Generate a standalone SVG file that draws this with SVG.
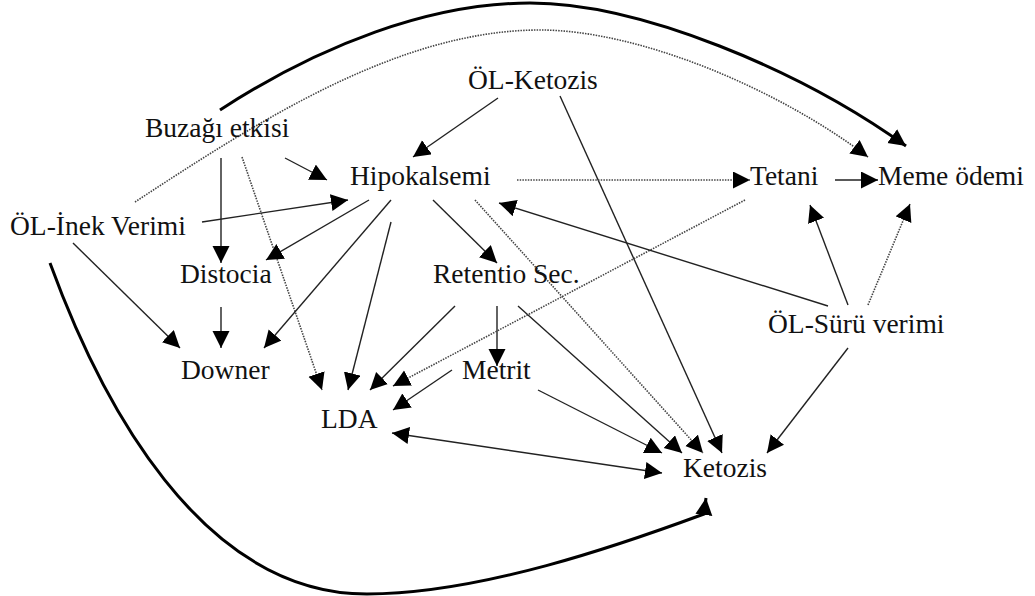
<svg xmlns="http://www.w3.org/2000/svg" width="1035" height="596" viewBox="0 0 1035 596">
<defs>
<marker id="ah" markerUnits="userSpaceOnUse" markerWidth="18" markerHeight="18" refX="17" refY="8.5" orient="auto-start-reverse"><path d="M0,0 L17,8.5 L0,17 z" fill="#000"/></marker>
<style>
.t{font-family:"Liberation Serif","Times New Roman",serif;font-size:27.5px;fill:#111}
.s{fill:none;stroke:#222;stroke-width:1.4}
.d{fill:none;stroke:#444;stroke-width:1.6;stroke-dasharray:1.5 1.2}
.k{fill:none;stroke:#000;stroke-width:3}
</style>
</defs>
<rect width="1035" height="596" fill="#fff"/>
<g id="connectors">
<path class="k" d="M220,110 C320,45 430,3 530,3 C640,3 800,70 906,146" marker-end="url(#ah)"/>
<path class="d" d="M135,202 C260,120 400,30 540,30 C640,30 780,90 868,157" marker-end="url(#ah)"/>
<path class="k" d="M50,263 C100,400 200,594 367,594 C480,594 620,545 704,514 L706,498" marker-end="url(#ah)"/>
<line class="s" x1="498" y1="98" x2="413" y2="157" marker-end="url(#ah)"/>
<line class="s" x1="560" y1="96" x2="722" y2="453" marker-end="url(#ah)"/>
<line class="s" x1="285" y1="158" x2="327" y2="180" marker-end="url(#ah)"/>
<line class="s" x1="221" y1="158" x2="221" y2="263" marker-end="url(#ah)"/>
<line class="d" x1="242" y1="157" x2="322" y2="390" marker-end="url(#ah)"/>
<line class="s" x1="202" y1="222" x2="348" y2="200" marker-end="url(#ah)"/>
<line class="s" x1="73" y1="243" x2="180" y2="348" marker-end="url(#ah)"/>
<line class="s" x1="221" y1="307" x2="221" y2="348" marker-end="url(#ah)"/>
<line class="s" x1="391" y1="200" x2="264" y2="348" marker-end="url(#ah)"/>
<line class="s" x1="369" y1="200" x2="266" y2="260" marker-end="url(#ah)"/>
<line class="s" x1="391" y1="222" x2="348" y2="390" marker-end="url(#ah)"/>
<line class="s" x1="433" y1="200" x2="497" y2="263" marker-end="url(#ah)"/>
<line class="d" x1="475" y1="200" x2="703" y2="453" marker-end="url(#ah)"/>
<line class="d" x1="517" y1="180" x2="750" y2="180" marker-end="url(#ah)"/>
<line class="s" x1="835" y1="180" x2="878" y2="180" marker-end="url(#ah)"/>
<line class="s" x1="455" y1="306" x2="370" y2="390" marker-end="url(#ah)"/>
<line class="s" x1="497" y1="306" x2="497" y2="366" marker-end="url(#ah)"/>
<line class="s" x1="518" y1="306" x2="682" y2="453" marker-end="url(#ah)"/>
<line class="d" x1="745" y1="200" x2="393" y2="386" marker-end="url(#ah)"/>
<line class="s" x1="452" y1="370" x2="393" y2="410" marker-end="url(#ah)"/>
<line class="s" x1="538" y1="390" x2="662" y2="453" marker-end="url(#ah)"/>
<line class="s" x1="392" y1="433" x2="662" y2="473" marker-start="url(#ah)" marker-end="url(#ah)"/>
<line class="s" x1="828" y1="306" x2="499" y2="203" marker-end="url(#ah)"/>
<line class="s" x1="848" y1="305" x2="810" y2="205" marker-end="url(#ah)"/>
<line class="d" x1="868" y1="305" x2="910" y2="204" marker-end="url(#ah)"/>
<line class="s" x1="848" y1="348" x2="767" y2="453" marker-end="url(#ah)"/>
</g>
<g id="n-olketozis"><text class="t" x="468" y="89">ÖL-Ketozis</text></g>
<g id="n-buzagi"><text class="t" x="145" y="137">Buzağı etkisi</text></g>
<g id="n-hipokalsemi"><text class="t" x="350" y="185">Hipokalsemi</text></g>
<g id="n-tetani"><text class="t" x="750" y="185">Tetani</text></g>
<g id="n-meme"><text class="t" x="878" y="185">Meme ödemi</text></g>
<g id="n-olinek"><text class="t" x="10" y="235">ÖL-İnek Verimi</text></g>
<g id="n-distocia"><text class="t" x="180" y="283">Distocia</text></g>
<g id="n-retentio"><text class="t" x="433" y="283">Retentio Sec.</text></g>
<g id="n-olsuru"><text class="t" x="768" y="333">ÖL-Sürü verimi</text></g>
<g id="n-downer"><text class="t" x="181" y="379">Downer</text></g>
<g id="n-metrit"><text class="t" x="462" y="379">Metrit</text></g>
<g id="n-lda"><text class="t" x="321" y="428">LDA</text></g>
<g id="n-ketozis"><text class="t" x="683" y="477">Ketozis</text></g>
</svg>
